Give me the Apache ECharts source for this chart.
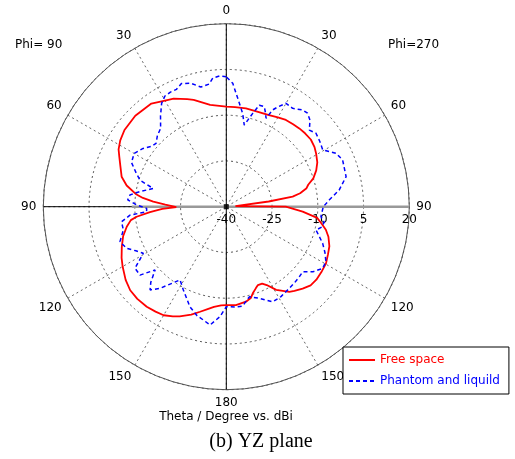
<!DOCTYPE html>
<html>
<head>
<meta charset="utf-8">
<script src="https://cdn.jsdelivr.net/npm/echarts@6/dist/echarts.min.js"></script>
<style>
html,body{margin:0;padding:0;background:#fff;}
#chart{width:515px;height:459px;}
</style>
</head>
<body>
<div id="chart"></div>
<script>
// Theta (deg): 0 at top, 0..180 on the Phi=90 side (left), 180..360 back up the Phi=270 side (right)
const freeTheta = [0,9,17,20,26,30,36,45,53,58,62,65,69,74,78,82,84,86,88,90.5,92,94,96.4,98,101.4,106,111,116,120,126,131,136,141.5,146,150,154,157,162,166,170,173,177,180,
  185.6,191.7,195,197,200,202,205,207.3,211,216.5,219,223,227,231,236,240.4,245,249,253.6,257,260,263,266.3,270,273,277,278.6,280.3,283,285,288,292,296,300.5,304,308.5,313,317,321,325.5,330,335,341,348.7,355,360];
const freeDb = [-7.2,-6.2,-3.4,-2.5,-0.6,0.2,1.8,2.2,1.8,1.0,0.0,-1.3,-2.8,-4.3,-6.6,-10,-12.5,-16,-20,-23.6,-19,-14.9,-10.4,-8.4,-6.7,-4.8,-3.3,-1.8,-0.75,0.8,1.75,2.0,1.9,1.5,1.1,0.0,-0.9,-2.8,-4.5,-6.0,-6.9,-7.6,-7.7,
  -7.6,-8.2,-9.0,-10.3,-11.6,-12.3,-12.2,-11.1,-8.2,-5.3,-4.5,-3.3,-2.2,-2.0,-2.2,-2.4,-3.2,-3.8,-5.1,-6.5,-8.3,-10,-14.9,-20.5,-37,-26,-18,-15.4,-13,-12.2,-10,-8.2,-6.8,-5.8,-5.1,-4.6,-4.7,-4.9,-5.2,-5.5,-6.2,-6.9,-7.2,-7.1,-7.2,-7.2];

const phantomTheta = [0,3,6,8,12,16,20,23,26,29,32,36,40,44,48,51,55,60,65,69.6,73,76,78,80,83,86,88.9,91.2,93.6,95,98.2,102.7,108.2,112.7,116,119.3,124,128.4,131.6,135,137.5,140.9,147.7,152.7,160,165,168.5,172.2,176.7,180,
  185,189.4,194.3,199.8,206,211.3,217.7,222,226,229.6,233,237.4,241.1,245,249.2,255.4,258,261,264,270,273.7,278.4,284.1,291.9,296,300.5,305,309.3,312.7,316,319,321.7,326,330,332.5,334.4,335.8,337.5,339.2,342,344.2,347.6,350,352.8,357,360];
const phantomDb = [2.6,2.9,2.4,0.6,0.1,2.1,3.0,1.8,1.8,1.5,0.0,-3.3,-6.5,-7.5,-9.0,-8.5,-6.7,-5.1,-5.7,-8.5,-10.5,-15.3,-13.5,-11.3,-8.2,-7.6,-10.6,-13.9,-13.8,-8.3,-5.3,-5.4,-3.3,-4.6,-7,-8.8,-3.9,-3.9,-8.8,-5,-3.0,-5.5,-11.6,-9.3,-5.1,-3.0,-2.1,-0.85,-3.9,-7.2,
  -7.0,-7.0,-9.5,-8.1,-5.3,-5.5,-6.2,-6.5,-6.8,-7.1,-4.5,-2.5,-2.7,-4.3,-6.2,-9.6,-8.0,-7.5,-8.8,-8.2,-6.2,-2.6,0.5,1.1,0.0,-3.3,-2.6,-2.0,-2.95,-0.5,0.6,0.4,-1.1,-0.85,-3.0,-4.8,-8.2,-6.5,-4.9,-5.0,-8.2,-12.6,-9,-5.8,0.5,2.6];

const radiusTicks = [-40, -25, -10, 5, 20];
const seriesNames = ['Free space', 'Phantom and liquild'];

const FONT = 'DejaVu Sans';
// map theta to the angle axis range [-90, 270]
const toAxis = a => (a > 270 ? a - 360 : a);
const pairs = (th, db) => th.map((t, i) => [db[i], toAxis(t)]);

const chart = echarts.init(document.getElementById('chart'), null, {renderer: 'canvas'});
chart.setOption({
  animation: false,
  backgroundColor: '#fff',
  polar: { center: [226.3, 206.7], radius: 183 },
  angleAxis: {
    type: 'value', min: -90, max: 270, interval: 30,
    startAngle: 0, clockwise: false,
    axisLine: { show: true, lineStyle: { color: '#555', width: 1 } },
    axisTick: { show: false },
    axisLabel: {
      show: true, margin: 7, color: '#000', fontFamily: FONT, fontSize: 12,
      formatter: v => { if (v === 270) return ''; const t = v < 0 ? -v : (v <= 180 ? v : 360 - v); return String(t); }
    },
    splitLine: { show: true, lineStyle: { color: '#666', type: [2, 3], width: 1 } }
  },
  radiusAxis: {
    type: 'value', min: radiusTicks[0], max: radiusTicks[radiusTicks.length - 1], interval: 15,
    axisLine: { show: false },
    axisTick: { show: false },
    axisLabel: { show: true, color: '#000', fontFamily: FONT, fontSize: 12, margin: -7, verticalAlign: 'top' },
    splitLine: { show: true, lineStyle: { color: '#555', type: [2, 3], width: 1 } }
  },
  legend: {
    orient: 'vertical', left: 343, top: 347,
    padding: [7, 9, 7, 5], itemGap: 9, itemWidth: 26, itemHeight: 12,
    borderColor: '#000', borderWidth: 1, backgroundColor: '#fff',
    itemStyle: { opacity: 0 },
    textStyle: { fontFamily: FONT, fontSize: 12 },
    data: [
      { name: seriesNames[0], textStyle: { color: '#ff0000' } },
      { name: seriesNames[1], textStyle: { color: '#0000ff' } }
    ]
  },
  graphic: [
    { type: 'text', x: 15, y: 45, style: { text: 'Phi= 90', font: '12px ' + FONT, fill: '#000', verticalAlign: 'middle' } },
    { type: 'text', x: 388, y: 45, style: { text: 'Phi=270', font: '12px ' + FONT, fill: '#000', verticalAlign: 'middle' } },
    { type: 'text', x: 226, y: 417, style: { text: 'Theta / Degree vs. dBi', font: '12px ' + FONT, fill: '#000', align: 'center', verticalAlign: 'middle' } },
    { type: 'text', x: 261, y: 442, style: { text: '(b) YZ plane', font: '20px "Liberation Serif"', fill: '#000', align: 'center', verticalAlign: 'middle' } }
  ],
  series: [
    { type: 'line', coordinateSystem: 'polar', silent: true, symbol: 'none', data: [[20, 90], [20, 270]],
      lineStyle: { color: '#000', width: 1 }, z: 1 },
    { type: 'line', coordinateSystem: 'polar', silent: true, symbol: 'none', data: [[-9, 90], [20, 270]],
      lineStyle: { color: '#999', width: 2.5 }, z: 1 },
    { type: 'line', coordinateSystem: 'polar', silent: true, symbol: 'none', data: [[20, 0], [20, 180]],
      lineStyle: { color: '#000', width: 1 }, z: 1 },
    { name: seriesNames[0], type: 'line', coordinateSystem: 'polar', symbol: 'none', smooth: false,
      data: pairs(freeTheta, freeDb), lineStyle: { color: '#ff0000', width: 1.8 }, itemStyle: { color: '#ff0000' }, z: 3 },
    { name: seriesNames[1], type: 'line', coordinateSystem: 'polar', symbol: 'none', smooth: false,
      data: pairs(phantomTheta, phantomDb), lineStyle: { color: '#0000ff', width: 1.5, type: [4, 3] }, itemStyle: { color: '#0000ff' }, z: 3 },
    { type: 'scatter', coordinateSystem: 'polar', silent: true, symbol: 'rect', symbolSize: 5, data: [[-40, 0]],
      itemStyle: { color: '#000' }, z: 4 }
  ]
});
</script>
</body>
</html>
